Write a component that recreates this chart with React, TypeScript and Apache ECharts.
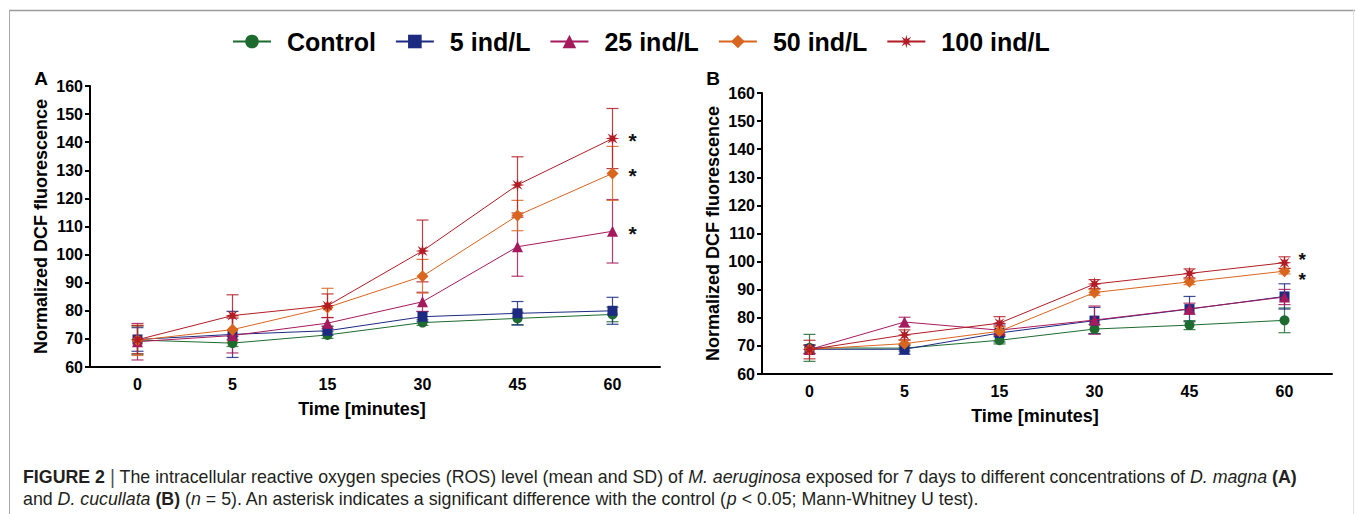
import React, { useEffect, useRef } from "react";
import * as echarts from "echarts";

// ---------- data ----------
const timeLabels = ["0", "5", "15", "30", "45", "60"];
const seriesNames = ["Control", "5 ind/L", "25 ind/L", "50 ind/L", "100 ind/L"];
const yMin = 60;
const yMax = 160;
const yStep = 10;

// Panel A (D. magna): means
const aControl = [69.6, 68.5, 71.4, 75.8, 77.3, 78.7];
const aInd5 = [69.8, 71.6, 72.9, 77.9, 79.1, 80.0];
const aInd25 = [69.0, 71.2, 75.6, 83.2, 102.8, 108.3];
const aInd50 = [69.5, 73.3, 81.2, 92.3, 113.9, 128.9];
const aInd100 = [69.7, 78.3, 81.8, 101.3, 124.8, 141.3];
// Panel A: SD
const aControlSd = [5.0, 1.2, 1.2, 1.0, 2.2, 2.6];
const aInd5Sd = [4.2, 8.2, 1.6, 1.8, 4.2, 4.8];
const aInd25Sd = [6.5, 6.2, 2.0, 3.4, 10.5, 11.3];
const aInd50Sd = [5.4, 4.5, 6.8, 6.0, 5.4, 9.6];
const aInd100Sd = [5.0, 7.4, 4.2, 11.0, 10.0, 10.7];
const aSignificant = ["25 ind/L", "50 ind/L", "100 ind/L"];

// Panel B (D. cucullata): means
const bControl = [69.3, 69.2, 72.0, 76.0, 77.4, 79.1];
const bInd5 = [68.8, 68.8, 74.6, 79.0, 83.1, 87.6];
const bInd25 = [68.7, 78.5, 75.6, 79.2, 83.2, 87.4];
const bInd50 = [68.8, 70.8, 75.2, 89.0, 92.8, 96.6];
const bInd100 = [68.7, 73.9, 78.1, 92.0, 95.8, 99.6];
// Panel B: SD
const bControlSd = [4.8, 1.0, 1.3, 1.6, 1.6, 4.4];
const bInd5Sd = [1.5, 1.8, 3.2, 4.7, 4.5, 4.5];
const bInd25Sd = [1.5, 1.7, 1.5, 5.0, 2.0, 2.7];
const bInd50Sd = [1.5, 1.3, 1.5, 1.0, 1.0, 1.0];
const bInd100Sd = [3.3, 1.8, 2.3, 1.6, 1.6, 2.1];
const bSignificant = ["50 ind/L", "100 ind/L"];

// ---------- styles ----------
const colors = ["#1e6b30", "#1c2a82", "#a51a5c", "#d9661f", "#b21c24"];
const FONT = "'Liberation Sans', Arial, Helvetica, sans-serif";

function starPath(n: number, inner: number) {
  let d = "";
  for (let k = 0; k < 2 * n; k++) {
    const r = k % 2 === 0 ? 1 : inner;
    const a = (Math.PI * k) / n - Math.PI / 2;
    const x = (50 + 50 * r * Math.cos(a)).toFixed(2);
    const y = (50 + 50 * r * Math.sin(a)).toFixed(2);
    d += (k === 0 ? "M" : "L") + x + " " + y + " ";
  }
  return "path://" + d + "Z";
}

const symbols = ["circle", "rect", "triangle", "diamond", starPath(8, 0.38)];
const symbolSizes = [10, 10, 11, 12, 14];
// placement of the significance asterisk relative to the point (layout only)
const asteriskDx = [16, 14];
const asteriskDy = [
  [0, 0, 2, 2, 2],
  [0, 0, 0, 8, -3],
];
const asteriskSize = [21, 19];

export default function App() {
  const ref = useRef<HTMLDivElement>(null);

  useEffect(() => {
    if (!ref.current) return;
    const chart = echarts.init(ref.current, undefined, { renderer: "svg" });

    const panels = [
      { means: [aControl, aInd5, aInd25, aInd50, aInd100], sds: [aControlSd, aInd5Sd, aInd25Sd, aInd50Sd, aInd100Sd], sig: aSignificant },
      { means: [bControl, bInd5, bInd25, bInd50, bInd100], sds: [bControlSd, bInd5Sd, bInd25Sd, bInd50Sd, bInd100Sd], sig: bSignificant },
    ];

    const series: any[] = [];
    panels.forEach((p, pi) => {
      seriesNames.forEach((name, si) => {
        const color = colors[si];
        const errData = p.means[si].map((m, i) => [i, m, p.sds[si][i]]);
        series.push({
          name: "err " + name + " " + pi,
          type: "custom",
          xAxisIndex: pi,
          yAxisIndex: pi,
          z: 1,
          clip: true,
          silent: true,
          data: errData,
          renderItem: (params: any, api: any) => {
            const x = api.value(0);
            const m = api.value(1);
            const sd = api.value(2);
            const top = api.coord([x, m + sd]);
            const bot = api.coord([x, m - sd]);
            const h = 6;
            const st = { stroke: color, lineWidth: 1.2, opacity: 0.85 };
            return {
              type: "group",
              children: [
                { type: "line", shape: { x1: top[0], y1: top[1], x2: bot[0], y2: bot[1] }, style: st },
                { type: "line", shape: { x1: top[0] - h, y1: top[1], x2: top[0] + h, y2: top[1] }, style: st },
                { type: "line", shape: { x1: bot[0] - h, y1: bot[1], x2: bot[0] + h, y2: bot[1] }, style: st },
              ],
            };
          },
        });
        const last = p.means[si].length - 1;
        const half = symbolSizes[si] / 2;
        const data = p.means[si].map((v, i) =>
          i === last && p.sig.includes(name)
            ? {
                value: v,
                label: {
                  show: true,
                  position: [half + asteriskDx[pi], half + asteriskDy[pi][si]],
                  align: "left",
                  verticalAlign: "middle",
                  formatter: "*",
                  color: "#111",
                  fontSize: asteriskSize[pi],
                  lineHeight: 14,
                  fontWeight: "bold",
                  fontFamily: FONT,
                },
              }
            : v
        );
        series.push({
          name,
          type: "line",
          xAxisIndex: pi,
          yAxisIndex: pi,
          z: 2 + si,
          data,
          symbol: symbols[si],
          symbolSize: symbolSizes[si],
          itemStyle: { color },
          lineStyle: { color, width: 1 },
          emphasis: { disabled: true },
          labelLayout: { hideOverlap: false },
        });
      });
    });

    const yAxisCommon = {
      type: "value",
      min: yMin,
      max: yMax,
      interval: yStep,
      name: "Normalized DCF fluorescence",
      nameLocation: "middle",
      nameGap: 40,
      nameTextStyle: { fontSize: 18, fontWeight: "bold", color: "#000", fontFamily: FONT },
      splitLine: { show: false },
      axisLine: { show: true, lineStyle: { color: "#000", width: 2 } },
      axisTick: { show: true, length: 5, lineStyle: { color: "#000", width: 2 } },
      axisLabel: { fontSize: 16, fontWeight: "bold", color: "#000", margin: 7, fontFamily: FONT },
    };
    const xAxisCommon = {
      type: "category",
      data: timeLabels,
      boundaryGap: true,
      axisLine: { show: true, lineStyle: { color: "#000", width: 2 } },
      axisTick: { show: false },
      axisLabel: { fontSize: 16, fontWeight: "bold", color: "#000", margin: 9, fontFamily: FONT },
    };

    const panelText = (x: number, y: number, text: string, size: number) => ({
      type: "text",
      x,
      y,
      style: { text, fontSize: size, fontWeight: "bold", fill: "#000", fontFamily: FONT, align: "center", verticalAlign: "middle" },
    });

    const CAP = 17.8;
    const option: any = {
      animation: false,
      backgroundColor: "#fff",
      legend: {
        data: seriesNames,
        left: 227,
        top: 24,
        itemWidth: 38,
        itemHeight: 17,
        itemGap: 19,
        textStyle: { fontSize: 25, fontWeight: "bold", color: "#000", fontFamily: FONT, padding: [0, 0, 0, 11] },
        selectedMode: false,
      },
      grid: [
        { left: 90, top: 86, width: 570, height: 281 },
        { left: 762, top: 93, width: 570, height: 281 },
      ],
      xAxis: [
        { ...xAxisCommon, gridIndex: 0 },
        { ...xAxisCommon, gridIndex: 1 },
      ],
      yAxis: [
        { ...yAxisCommon, gridIndex: 0 },
        { ...yAxisCommon, gridIndex: 1 },
      ],
      series,
      graphic: [
        { type: "line", shape: { x1: 9, y1: 10.5, x2: 1355, y2: 10.5 }, style: { stroke: "#9a9a9a", lineWidth: 1.5 } },
        { type: "line", shape: { x1: 9.5, y1: 10, x2: 9.5, y2: 514 }, style: { stroke: "#a8a8a8", lineWidth: 1 } },
        { type: "line", shape: { x1: 1353.5, y1: 10, x2: 1353.5, y2: 514 }, style: { stroke: "#e0e0e0", lineWidth: 1 } },
        panelText(41, 78, "A", 19),
        panelText(713, 78, "B", 19),
        panelText(362, 409, "Time [minutes]", 18),
        panelText(1035, 416, "Time [minutes]", 18),
        {
          type: "text",
          x: 23,
          y: 477,
          style: {
            text:
              "{b|FIGURE 2} {g||} The intracellular reactive oxygen species (ROS) level (mean and SD) of {i|M. aeruginosa} exposed for 7 days to different concentrations of {i|D. magna} {b|(A)}",
            fontSize: CAP,
            fill: "#231f20",
            fontFamily: FONT,
            verticalAlign: "middle",
            rich: {
              b: { fontWeight: "bold", fontSize: CAP, fill: "#231f20", fontFamily: FONT },
              i: { fontStyle: "italic", fontSize: CAP, fill: "#231f20", fontFamily: FONT },
              g: { fontSize: CAP + 1.5, fill: "#555", fontFamily: FONT },
            },
          },
        },
        {
          type: "text",
          x: 23,
          y: 499,
          style: {
            text:
              "and {i|D. cucullata} {b|(B)} ({i|n} = 5). An asterisk indicates a significant difference with the control ({i|p} < 0.05; Mann-Whitney U test).",
            fontSize: CAP,
            fill: "#231f20",
            fontFamily: FONT,
            verticalAlign: "middle",
            rich: {
              b: { fontWeight: "bold", fontSize: CAP, fill: "#231f20", fontFamily: FONT },
              i: { fontStyle: "italic", fontSize: CAP, fill: "#231f20", fontFamily: FONT },
            },
          },
        },
      ],
    };

    chart.setOption(option);
    return () => chart.dispose();
  }, []);

  return (
    <div
      ref={ref}
      style={{ position: "absolute", left: 0, top: 0, width: 1355, height: 514, background: "#fff" }}
    />
  );
}
